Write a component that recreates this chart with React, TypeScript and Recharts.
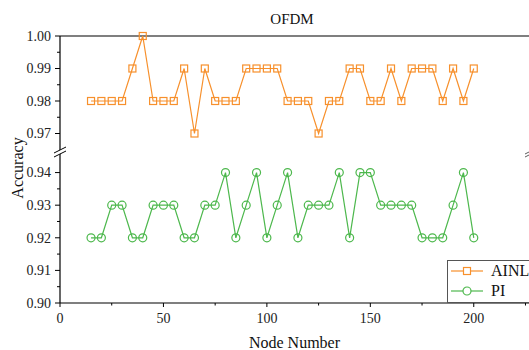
import React from 'react';
import { LineChart, Line, XAxis, YAxis, ReferenceLine } from 'recharts';

const nodeNumbers = [15, 20, 25, 30, 35, 40, 45, 50, 55, 60, 65, 70, 75, 80, 85, 90, 95, 100, 105, 110, 115, 120, 125, 130, 135, 140, 145, 150, 155, 160, 165, 170, 175, 180, 185, 190, 195, 200];
const ainl = [0.98, 0.98, 0.98, 0.98, 0.99, 1.0, 0.98, 0.98, 0.98, 0.99, 0.97, 0.99, 0.98, 0.98, 0.98, 0.99, 0.99, 0.99, 0.99, 0.98, 0.98, 0.98, 0.97, 0.98, 0.98, 0.99, 0.99, 0.98, 0.98, 0.99, 0.98, 0.99, 0.99, 0.99, 0.98, 0.99, 0.98, 0.99];
const pi = [0.92, 0.92, 0.93, 0.93, 0.92, 0.92, 0.93, 0.93, 0.93, 0.92, 0.92, 0.93, 0.93, 0.94, 0.92, 0.93, 0.94, 0.92, 0.93, 0.94, 0.92, 0.93, 0.93, 0.93, 0.94, 0.92, 0.94, 0.94, 0.93, 0.93, 0.93, 0.93, 0.92, 0.92, 0.92, 0.93, 0.94, 0.92];

const xTicks = [0, 25, 50, 75, 100, 125, 150, 175, 200, 225];
const topTicks = [0.97, 0.975, 0.98, 0.985, 0.99, 0.995, 1.0];
const bottomTicks = [0.9, 0.905, 0.91, 0.915, 0.92, 0.925, 0.93, 0.935, 0.94];
const seriesNames = ['AINL', 'PI'];

const data = nodeNumbers.map((n, i) => ({ node: n, ainl: ainl[i], pi: pi[i] }));

const ORANGE = '#F7902C';
const GREEN = '#4DB84D';
const FONT = '"Liberation Serif", "Times New Roman", serif';
const X_DOMAIN = [0, 226.7];

const YTick = (props: any) => {
  const { x, y, payload } = props;
  const v = payload.value as number;
  const major = Math.round(v * 1000) % 10 === 0;
  const ax = x + 9;
  return (
    <g>
      <line x1={ax - (major ? 5 : 3)} x2={ax} y1={y} y2={y} stroke="#000" strokeWidth={1} />
      {major && (
        <text x={x} y={y} dy="0.35em" textAnchor="end" fontSize={14} fill="#222" fontFamily={FONT}>
          {v.toFixed(2)}
        </text>
      )}
    </g>
  );
};

const XTick = (props: any) => {
  const { x, y, payload } = props;
  const v = payload.value as number;
  const major = v % 50 === 0;
  const ay = y - 10;
  return (
    <g>
      <line x1={x} x2={x} y1={ay} y2={ay + (major ? 4 : 2.5)} stroke="#000" strokeWidth={1} />
      {major && (
        <text x={x} y={y} dy="0.71em" textAnchor="middle" fontSize={14} fill="#222" fontFamily={FONT}>
          {v}
        </text>
      )}
    </g>
  );
};

const squareDot = (props: any) => (
  <rect key={`a-${props.index}`} x={props.cx - 3.5} y={props.cy - 3.5} width={7} height={7} fill="none" stroke={ORANGE} strokeWidth={1.2} />
);
const circleDot = (props: any) => (
  <circle key={`p-${props.index}`} cx={props.cx} cy={props.cy} r={4} fill="none" stroke={GREEN} strokeWidth={1.2} />
);

const LegendBox = () => (
  <div
    style={{
      position: 'absolute',
      left: 447,
      top: 260,
      border: '1px solid #555',
      width: 100,
      height: 41,
      background: '#fff',
      fontFamily: FONT,
      fontSize: 16,
    }}
  >
    {seriesNames.map((name, i) => {
      const color = i === 0 ? ORANGE : GREEN;
      return (
        <div key={name} style={{ display: 'flex', alignItems: 'center', height: 20 }}>
          <svg width={40} height={20}>
            <line x1={3} x2={35} y1={10} y2={10} stroke={color} strokeWidth={1.2} />
            {i === 0 ? (
              <rect x={15.5} y={6.5} width={7} height={7} fill="#fff" stroke={color} strokeWidth={1.2} />
            ) : (
              <circle cx={19} cy={10} r={4} fill="#fff" stroke={color} strokeWidth={1.2} />
            )}
          </svg>
          <span style={{ marginLeft: 3, color: '#111' }}>{name}</span>
        </div>
      );
    })}
  </div>
);

export default function App() {
  return (
    <div style={{ position: 'absolute', left: 0, top: 0, width: 529, height: 350, overflow: 'hidden', background: '#fff' }}>
      <div style={{ position: 'absolute', left: 0, top: 0 }}>
        <LineChart width={529} height={153} data={data} margin={{ top: 36, right: 0, left: 0, bottom: 0 }}>
          <XAxis dataKey="node" type="number" domain={X_DOMAIN} hide />
          <YAxis
            type="number"
            domain={[0.964, 1.0]}
            ticks={topTicks}
            width={60}
            tickSize={5}
            tickMargin={4}
            tickLine={false}
            tick={<YTick />}
            axisLine={{ stroke: '#000', strokeWidth: 1.2 }}
            interval={0}
          />
          <ReferenceLine y={1.0} stroke="#000" strokeWidth={1.2} />
          <Line dataKey="ainl" name="AINL" stroke={ORANGE} strokeWidth={1.2} dot={squareDot} isAnimationActive={false} />
        </LineChart>
      </div>
      <div style={{ position: 'absolute', left: 0, top: 153 }}>
        <LineChart width={529} height={197} data={data} margin={{ top: 0, right: 0, left: 0, bottom: 0 }}>
          <XAxis
            dataKey="node"
            type="number"
            domain={X_DOMAIN}
            ticks={xTicks}
            height={47}
            tickSize={4}
            tickMargin={6}
            tickLine={false}
            tick={<XTick />}
            axisLine={{ stroke: '#000', strokeWidth: 1.2 }}
            interval={0}
            label={{ value: 'Node Number', position: 'insideBottom', offset: 2, fontSize: 16, fill: '#111', fontFamily: FONT }}
          />
          <YAxis
            type="number"
            domain={[0.9, 0.946]}
            ticks={bottomTicks}
            width={60}
            tickSize={5}
            tickMargin={4}
            tickLine={false}
            tick={<YTick />}
            axisLine={{ stroke: '#000', strokeWidth: 1.2 }}
            interval={0}
          />
          <Line dataKey="pi" name="PI" stroke={GREEN} strokeWidth={1.2} dot={circleDot} isAnimationActive={false} />
        </LineChart>
      </div>
      <LegendBox />
      <svg width={529} height={350} style={{ position: 'absolute', left: 0, top: 0, pointerEvents: 'none' }}>
        <text x={292} y={19} dy="0.35em" textAnchor="middle" fontSize={15} fill="#111" fontFamily={FONT}>
          OFDM
        </text>
        <text x={17} y={168} dy="0.35em" textAnchor="middle" fontSize={16} fill="#111" fontFamily={FONT} transform="rotate(-90 17 168)">
          Accuracy
        </text>
        <polygon points="54,153 66,147 66,151 54,157" fill="#fff" />
        <line x1={54} y1={153} x2={66} y2={147} stroke="#000" strokeWidth={1} />
        <line x1={54} y1={157} x2={66} y2={151} stroke="#000" strokeWidth={1} />
        <line x1={525} y1={154} x2={529} y2={152} stroke="#333" strokeWidth={0.8} />
        <line x1={525} y1={157} x2={529} y2={155} stroke="#333" strokeWidth={0.8} />
      </svg>
    </div>
  );
}
